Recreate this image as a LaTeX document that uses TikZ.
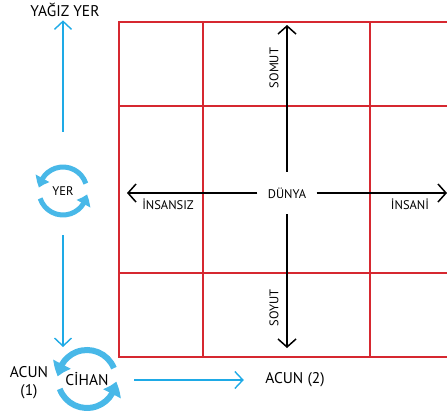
\documentclass[tikz,border=0pt]{standalone}
\usepackage{fontspec}
\setmainfont{PT Sans}
\usetikzlibrary{arrows.meta,bending}
\definecolor{gridred}{RGB}{214,40,48}
\definecolor{iconblue}{RGB}{72,184,232}
\definecolor{lineblue}{RGB}{30,170,230}

\begin{document}
\begin{tikzpicture}[x=1pt,y=1pt,
    gridline/.style={draw=gridred,line width=1.4pt,line cap=rect},
    axisarrow/.style={draw=black,line width=1.5pt,-{Straight Barb[length=8pt,width=18pt]}},
    flowarrow/.style={draw=lineblue,line width=1.4pt,-{Straight Barb[length=8pt,width=17pt]}},
    cyclearc/.style={draw=iconblue,line width=5pt,-{Triangle[length=10pt,width=15pt,bend]}},
    bigcyclearc/.style={draw=iconblue,line width=6pt,-{Triangle[length=13pt,width=19pt,bend]}},
    smalltext/.style={font=\fontsize{12.5}{14}\selectfont},
    bigtext/.style={font=\fontsize{15.5}{18}\selectfont}]
    \useasboundingbox (0,0) rectangle (447,-415);

    % red grid
    \foreach \y in {22,106,273,357} {
        \draw[gridline] (119,-\y) -- (470,-\y);
    }
    \foreach \x in {119,203,370} {
        \draw[gridline] (\x,-22) -- (\x,-357);
    }

    % axes round the centre
    \node[smalltext,minimum width=59pt,minimum height=42pt,inner sep=0pt] (dunya) at (287,-193) {DÜNYA};
    \coordinate (somutend) at (287,-25);
    \coordinate (soyutend) at (287,-348);
    \coordinate (insansizend) at (127,-193);
    \coordinate (insaniend) at (447,-193);
    \draw[axisarrow] (dunya.north) -- (somutend);
    \draw[axisarrow] (dunya.south) -- (soyutend);
    \draw[axisarrow] (dunya.west) -- (insansizend);
    \draw[axisarrow] (dunya.east) -- (insaniend);

    \node[smalltext,rotate=90] (somut) at (274,-68) {SOMUT};
    \node[smalltext,rotate=90] (soyut) at (274,-308) {SOYUT};
    \node[smalltext] (insansiz) at (168,-204) {İNSANSIZ};
    \node[smalltext] (insani) at (410,-204) {İNSANİ};

    % left column
    \node[bigtext] (yagiz) at (65,-10) {YAĞIZ YER};
    \node[smalltext,circle,minimum size=50pt,inner sep=0pt] (yer) at (63,-191) {YER};
    \draw[cyclearc] ([shift={(18:24)}]yer.center) arc[start angle=18,end angle=172,radius=24];
    \draw[cyclearc] ([shift={(198:24)}]yer.center) arc[start angle=198,end angle=352,radius=24];

    \coordinate (cihantop) at (63,-347);
    \draw[flowarrow,shorten <=34pt] (yer.north) -- (yer.north |- yagiz.south);
    \draw[flowarrow,shorten <=19pt] (yer.south) -- (cihantop);

    \node[bigtext,circle,minimum size=60pt,inner sep=0pt] (cihan) at (87,-379) {CİHAN};
    \draw[bigcyclearc] ([shift={(22:29)}]cihan.center) arc[start angle=22,end angle=175,radius=29];
    \draw[bigcyclearc] ([shift={(200:29)}]cihan.center) arc[start angle=200,end angle=355,radius=29];

    \node[bigtext,align=center] (acunone) at (29,-383) {ACUN\\(1)};
    \node[bigtext] (acuntwo) at (295,-380) {ACUN (2)};
    \draw[flowarrow,shorten <=17pt,shorten >=18pt] (cihan.east |- acuntwo.west) -- (acuntwo.west);
\end{tikzpicture}
\end{document}
